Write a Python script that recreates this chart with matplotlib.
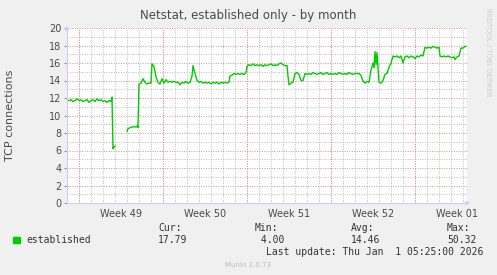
import numpy as np
import matplotlib.pyplot as plt

# Datos: (columna rrd de 2 h, conexiones TCP)
tramo_1 = [(0, 11.8), (2, 11.7), (4, 11.8), (6, 11.6), (8, 11.7), (10, 11.9), (12, 11.7),
           (14, 11.8), (16, 11.6), (18, 11.7), (20, 11.8), (22, 11.5), (24, 11.7), (26, 11.8),
           (28, 11.6), (30, 11.9), (32, 11.7), (34, 11.8), (36, 11.6), (38, 11.7), (40, 11.5),
           (42, 11.7), (44, 11.6), (45, 12.1), (46, 6.2), (47, 6.4), (48, 6.5), (49, np.nan)]
tramo_2 = [(60, 8.2), (61, 8.5), (63, 8.6), (65, 8.7), (67, 8.7), (69, 8.7), (70, 8.8),
           (71, 8.6), (72, 13.6), (74, 13.7), (76, 14.2), (78, 13.8), (80, 13.6), (82, 13.7),
           (84, 13.7), (85, 15.9), (87, 15.6), (89, 14.4), (91, 13.8), (93, 13.6), (95, 14.2),
           (97, 13.7), (99, 14.1), (101, 13.8), (103, 13.9), (105, 13.8), (107, 13.9),
           (109, 13.8), (111, 13.8), (113, 13.5), (115, 13.8), (117, 13.7), (119, 13.9),
           (121, 13.7), (123, 13.8), (125, 14.5), (126, 15.7), (128, 14.8), (130, 14.0),
           (132, 13.8), (134, 13.9), (136, 13.7), (138, 13.8), (140, 13.7), (142, 13.8),
           (144, 13.6), (146, 13.8), (148, 13.7), (150, 13.8), (152, 13.6), (154, 13.8),
           (156, 13.7), (158, 13.8), (160, 13.7), (162, 13.8)]
tramo_3 = [(163, 14.5), (165, 14.6), (167, 14.8), (169, 14.7), (171, 14.8), (173, 14.7),
           (175, 14.8), (177, 14.7), (179, 14.9), (180, 15.6), (182, 15.8), (184, 15.7),
           (186, 15.9), (188, 15.7), (190, 15.8), (192, 15.7), (194, 15.8), (196, 15.6),
           (198, 15.8), (200, 15.7), (202, 15.8), (204, 15.9), (206, 15.7), (208, 15.8),
           (210, 15.7), (212, 15.9), (214, 16.0), (216, 15.8), (218, 15.7), (220, 15.7),
           (221, 14.5), (222, 13.5), (224, 13.7), (226, 13.8), (228, 14.8), (230, 14.9),
           (232, 14.7), (234, 14.0), (236, 14.0), (238, 14.8), (240, 14.7), (242, 14.8),
           (244, 14.7), (246, 14.9), (248, 14.8), (250, 14.7), (252, 14.8), (254, 14.9),
           (256, 14.7), (258, 14.8), (260, 14.9), (262, 14.7), (264, 14.8), (266, 14.7),
           (268, 14.8), (270, 14.7), (272, 14.9), (274, 14.8), (276, 14.7), (278, 14.8),
           (280, 14.7), (282, 14.9), (284, 14.8), (286, 14.7), (288, 14.8), (290, 14.8),
           (292, 14.8)]
tramo_4 = [(294, 14.6), (296, 13.9), (298, 13.7), (300, 13.9), (302, 13.8), (304, 15.2),
           (306, 16.0), (307, 15.5), (308, 17.3), (309, 15.8), (310, 17.2), (311, 15.5),
           (312, 13.8), (314, 13.7), (316, 14.0), (318, 14.7), (320, 14.8), (322, 15.5),
           (324, 16.0), (326, 16.8), (328, 16.7), (330, 16.8), (332, 16.6), (334, 16.8),
           (336, 16.0), (338, 16.7), (340, 16.8), (342, 16.6), (344, 16.8), (346, 16.7),
           (348, 16.5), (350, 16.8), (352, 16.7), (354, 16.9), (356, 16.8), (358, 17.8),
           (360, 17.7), (362, 17.8), (364, 17.7), (366, 17.9), (368, 17.8), (370, 17.7),
           (372, 17.8), (373, 16.8), (375, 16.7), (377, 16.8), (379, 16.7), (381, 16.8),
           (383, 16.7), (385, 16.6), (387, 16.7), (388, 16.4), (390, 16.7), (392, 16.8),
           (394, 17.7), (396, 17.7), (398, 17.9), (399, 17.9)]

semanas = ['Week 49', 'Week 50', 'Week 51', 'Week 52', 'Week 01']
inicio_semanas = [24, 192, 360, 528, 696]   # horas, lunes
centro_semanas = [108, 276, 444, 612, 780]

leyenda = 'established'
cur, vmin, avg, vmax = '17.79', '4.00', '14.46', '50.32'
ultima = 'Last update: Thu Jan  1 05:25:00 2026'

datos = np.array(tramo_1 + tramo_2 + tramo_3 + tramo_4)
horas = datos[:, 0] * 2
conexiones = datos[:, 1]

W, H = 497, 275
fondo = '#F0F0F0'
verde = '#00CC00'
gris_txt = '#4a4a4a'

fig = plt.figure(figsize=(W/100, H/100), dpi=100, facecolor=fondo)
ax = fig.add_axes([67/W, 1 - 203/H, 400/W, 175/H])
ax.set_facecolor('white')

ax.plot(horas, conexiones, color=verde, lw=1.0)

ax.set_xlim(0, 800)
ax.set_ylim(0, 20)

# grilla estilo rrdtool
punteado = (0, (1, 1.5))
for h in range(0, 801, 24):
    ax.axvline(h, color='#bbbbbb', lw=0.7, ls=punteado, zorder=0)
for h in inicio_semanas:
    ax.axvline(h, color='#e08c8c', lw=0.7, ls=punteado, zorder=0)
for v in range(1, 21, 2):
    ax.axhline(v, color='#bbbbbb', lw=0.7, ls=punteado, zorder=0)
for v in range(2, 21, 2):
    ax.axhline(v, color='#e08c8c', lw=0.7, ls=punteado, zorder=0)

ax.set_yticks(range(0, 21, 2))
ax.set_xticks(centro_semanas)
ax.set_xticklabels(semanas)
ax.tick_params(axis='both', labelsize=7, colors=gris_txt, length=0, pad=4)
ax.tick_params(axis='y', length=2, color='#999999', pad=2)

for s in ['top', 'right']:
    ax.spines[s].set_visible(False)
ax.spines['left'].set_color('#ccccff')
ax.spines['bottom'].set_color('#ccccff')
ax.spines['left'].set_linewidth(0.8)
ax.spines['bottom'].set_linewidth(0.8)

# flechas de los ejes
ax.annotate('', xy=(0, 1.03), xytext=(0, 0.98), xycoords='axes fraction',
            arrowprops=dict(arrowstyle='-|>', color='#ccccff', lw=0.8, mutation_scale=6))
ax.annotate('', xy=(1.015, 0), xytext=(0.995, 0), xycoords='axes fraction',
            arrowprops=dict(arrowstyle='-|>', color='#ccccff', lw=0.8, mutation_scale=6))

fig.text(248/W, 1 - 15/H, 'Netstat, established only - by month', ha='center', va='center',
         fontsize=8.5, color=gris_txt)
fig.text(10/W, 1 - 115/H, 'TCP connections', rotation=90, ha='center', va='center',
         fontsize=8, color=gris_txt)
fig.text(488/W, 1 - 52/H, 'RRDTOOL / TOBI OETIKER', rotation=270, ha='center', va='center',
         fontsize=5, color='#cccccc')

# leyenda
mono = 'DejaVu Sans Mono'
fig.patches.append(plt.Rectangle((13/W, 1 - 243/H), 7/W, 6/H, transform=fig.transFigure,
                                 color=verde))
fig.text(26/W, 1 - 240/H, leyenda, family=mono, fontsize=7, color='#333333', va='center')
for x, t1, t2 in [(158, 'Cur:', cur), (255, 'Min:', ' ' + vmin), (351, 'Avg:', avg),
                  (447, 'Max:', vmax)]:
    fig.text(x/W, 1 - 228/H, t1, family=mono, fontsize=7, color='#333333', va='center')
    fig.text(x/W, 1 - 240/H, t2, family=mono, fontsize=7, color='#333333', va='center')
fig.text(483/W, 1 - 252/H, ultima, family=mono, fontsize=7, color='#333333', va='center',
         ha='right')
fig.text(248/W, 1 - 265/H, 'Munin 2.0.73', fontsize=5, color='#bbbbbb', ha='center',
         va='center')

fig.savefig('out.png', dpi=100, facecolor=fondo)
